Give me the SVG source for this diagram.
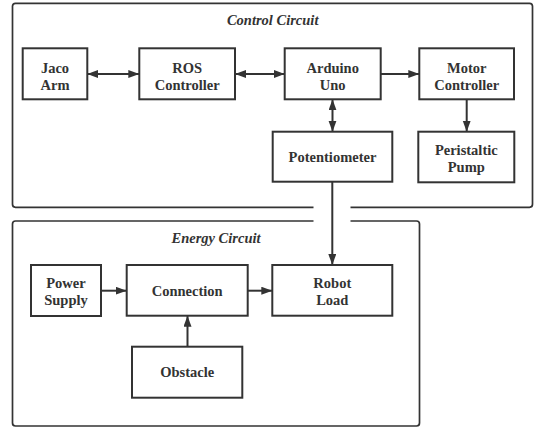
<svg xmlns="http://www.w3.org/2000/svg" width="534" height="431" viewBox="0 0 534 431">
<style>
.frame{fill:none;stroke:#333;stroke-width:1.7}
.box{fill:#fff;stroke:#333;stroke-width:2}
.lbl{font-weight:bold;font-size:14.5px;fill:#333;text-anchor:middle}
.ttl{font-weight:bold;font-style:italic;font-size:14.5px;fill:#333;text-anchor:middle}
.conn{fill:none;stroke:#333;stroke-width:2}
</style>
<defs>
<marker id="ah" markerUnits="userSpaceOnUse" markerWidth="12" markerHeight="9" refX="11" refY="4" orient="auto-start-reverse">
<path d="M0,0 L11,4 L0,8 z" fill="#333"/>
</marker>
</defs>
<g font-family="Liberation Serif, Times New Roman, serif">
<g id="control-circuit">
<path class="frame" d="M313.5 207.3 H15.5 Q12.5 207.3 12.5 204.3 V6.3 Q12.5 3.3 15.5 3.3 H529.5 Q532.5 3.3 532.5 6.3 V204.3 Q532.5 207.3 529.5 207.3 H350.5"/>
<text class="ttl" x="272.7" y="25">Control Circuit</text>
</g>
<g id="energy-circuit">
<path class="frame" d="M313.5 221 H15.5 Q12.5 221 12.5 224 V423 Q12.5 426 15.5 426 H416.5 Q419.5 426 419.5 423 V224 Q419.5 221 416.5 221 H350.5"/>
<text class="ttl" x="216" y="243.3">Energy Circuit</text>
</g>
<g id="connectors">
<line class="conn" x1="87.3" y1="74" x2="139.3" y2="74" marker-start="url(#ah)" marker-end="url(#ah)"/>
<line class="conn" x1="235" y1="74" x2="284.7" y2="74" marker-start="url(#ah)" marker-end="url(#ah)"/>
<line class="conn" x1="380.7" y1="74" x2="419.3" y2="74" marker-end="url(#ah)"/>
<line class="conn" x1="332.5" y1="99.3" x2="332.5" y2="131.7" marker-start="url(#ah)" marker-end="url(#ah)"/>
<line class="conn" x1="466.7" y1="99.3" x2="466.7" y2="131.7" marker-end="url(#ah)"/>
<line class="conn" x1="332.3" y1="181.7" x2="332.3" y2="265" marker-end="url(#ah)"/>
<line class="conn" x1="101" y1="290.7" x2="126.7" y2="290.7" marker-end="url(#ah)"/>
<line class="conn" x1="247.7" y1="290.7" x2="272.3" y2="290.7" marker-end="url(#ah)"/>
<line class="conn" x1="187.5" y1="346.7" x2="187.5" y2="315.7" marker-end="url(#ah)"/>
</g>
<g id="jaco-arm">
<rect class="box" x="22.7" y="48.3" width="64.6" height="51"/>
<text class="lbl" x="55" y="72.7">Jaco</text>
<text class="lbl" x="55" y="90">Arm</text>
</g>
<g id="ros-controller">
<rect class="box" x="139.3" y="48.3" width="95.7" height="51"/>
<text class="lbl" x="187.2" y="72.7">ROS</text>
<text class="lbl" x="187.2" y="90">Controller</text>
</g>
<g id="arduino-uno">
<rect class="box" x="284.7" y="48.3" width="96" height="51"/>
<text class="lbl" x="332.7" y="72.7">Arduino</text>
<text class="lbl" x="332.7" y="90">Uno</text>
</g>
<g id="motor-controller">
<rect class="box" x="419.3" y="48.3" width="94.7" height="51"/>
<text class="lbl" x="466.7" y="72.7">Motor</text>
<text class="lbl" x="466.7" y="90">Controller</text>
</g>
<g id="potentiometer">
<rect class="box" x="272.7" y="131.7" width="119.6" height="50"/>
<text class="lbl" x="332.5" y="162">Potentiometer</text>
</g>
<g id="peristaltic-pump">
<rect class="box" x="418.3" y="131.7" width="96" height="50.6"/>
<text class="lbl" x="466.3" y="155">Peristaltic</text>
<text class="lbl" x="466.3" y="172.3">Pump</text>
</g>
<g id="power-supply">
<rect class="box" x="31" y="265" width="70" height="51"/>
<text class="lbl" x="66" y="288">Power</text>
<text class="lbl" x="66" y="305.3">Supply</text>
</g>
<g id="connection">
<rect class="box" x="126.7" y="265" width="121" height="50.7"/>
<text class="lbl" x="187.2" y="295.7">Connection</text>
</g>
<g id="robot-load">
<rect class="box" x="272.3" y="265" width="120" height="50.7"/>
<text class="lbl" x="332.3" y="288">Robot</text>
<text class="lbl" x="332.3" y="305.3">Load</text>
</g>
<g id="obstacle">
<rect class="box" x="132" y="346.7" width="110.3" height="51"/>
<text class="lbl" x="187.2" y="377.2">Obstacle</text>
</g>
</g>
</svg>
